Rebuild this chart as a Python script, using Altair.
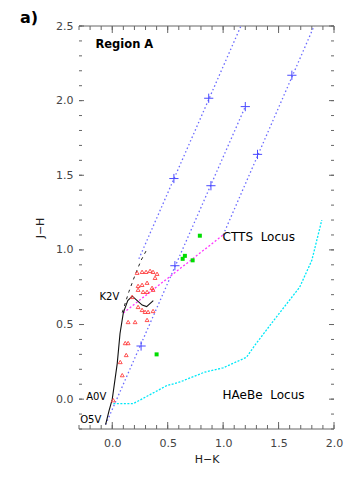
import altair as alt
import pandas as pd
import numpy as np

X_DOMAIN = [-0.3, 2.0]
Y_DOMAIN = [-0.2, 2.5]
W, H = 255, 403

# Dwarf locus (solid black)
dwarf_hk = [-0.06, -0.03, 0.0, 0.045, 0.07, 0.10, 0.14, 0.18, 0.21, 0.27, 0.31, 0.37]
dwarf_jh = [-0.17, -0.08, 0.0, 0.24, 0.44, 0.58, 0.66, 0.69, 0.67, 0.63, 0.62, 0.66]

# Giant locus (dashed black)
giant_hk = [0.09, 0.15, 0.21, 0.26, 0.31]
giant_jh = [0.58, 0.72, 0.84, 0.93, 1.00]

# Reddening vectors (blue dotted)
red1_hk = [0.24, 1.19]
red1_jh = [0.94, 2.55]
red2_hk = [-0.06, 1.20]
red2_jh = [-0.17, 1.96]
red3_hk = [1.00, 1.85]
red3_jh = [1.10, 2.55]

# Plus markers along the reddening vectors
plus_hk = [0.556, 0.87, 0.26, 0.565, 0.89, 1.20, 1.31, 1.62]
plus_jh = [1.478, 2.016, 0.356, 0.894, 1.43, 1.96, 1.64, 2.17]

# CTTS locus (magenta)
ctts_hk = [0.10, 1.00]
ctts_jh = [0.578, 1.10]

# HAeBe locus (cyan)
haebe_hk = [0.01, 0.19, 0.49, 0.61, 0.83, 1.00, 1.21, 1.30, 1.48, 1.69, 1.80, 1.89]
haebe_jh = [-0.03, -0.03, 0.09, 0.115, 0.18, 0.21, 0.28, 0.375, 0.55, 0.75, 0.93, 1.20]

# Sources (red open triangles)
tri_hk = [0.224, 0.269, 0.305, 0.341, 0.368, 0.404, 0.386, 0.233, 0.269, 0.314,
          0.359, 0.233, 0.278, 0.314, 0.368, 0.179, 0.233, 0.269, 0.296, 0.323,
          0.368, 0.143, 0.206, 0.314, 0.117, 0.143, 0.126, 0.072, 0.090, 0.009]
tri_jh = [0.847, 0.853, 0.853, 0.860, 0.853, 0.840, 0.813, 0.759, 0.766, 0.780,
          0.746, 0.733, 0.719, 0.719, 0.733, 0.685, 0.618, 0.598, 0.585, 0.585,
          0.591, 0.517, 0.517, 0.531, 0.376, 0.376, 0.296, 0.249, 0.161, -0.007]

# Sources (green squares)
sq_hk = [0.79, 0.655, 0.635, 0.725, 0.40]
sq_jh = [1.095, 0.96, 0.94, 0.93, 0.30]

# Labels
star_labels = ["K2V", "A0V", "O5V"]
star_lab_hk = [0.063, -0.054, -0.099]
star_lab_jh = [0.685, 0.013, -0.141]

locus_labels = ["CTTS\u00a0 Locus", "HAeBe\u00a0 Locus"]
locus_lab_hk = [0.995, 0.995]
locus_lab_jh = [1.085, 0.027]

region_label = ["Region A"]
region_hk = [-0.152]
region_jh = [2.372]

x_major = [0.0, 0.5, 1.0, 1.5, 2.0]
y_major = [0.0, 0.5, 1.0, 1.5, 2.0, 2.5]
x_minor = [round(v, 1) for v in np.arange(-0.3, 2.0001, 0.1)]
y_minor = [round(v, 1) for v in np.arange(-0.2, 2.5001, 0.1)]

FONT = "DejaVu Sans"

xscale = alt.Scale(domain=X_DOMAIN, nice=False, zero=False)
yscale = alt.Scale(domain=Y_DOMAIN, nice=False, zero=False)
xaxis = alt.Axis(values=x_major, format=".1f", title="H\u2212K", ticks=False,
                 domain=False, grid=False, labelPadding=8, labelFontSize=11,
                 labelColor="#444444", labelFont=FONT, titleFont=FONT,
                 titleFontSize=11, titleFontWeight="normal", titleColor="#222222",
                 titlePadding=5, labelOverlap=False, labelFlush=False)
yaxis = alt.Axis(values=y_major, format=".1f", title="J\u2212H", ticks=False,
                 domain=False, grid=False, labelPadding=6, labelFontSize=11,
                 labelColor="#444444", labelFont=FONT, titleFont=FONT,
                 titleFontSize=11, titleFontWeight="normal", titleColor="#222222",
                 titlePadding=10, labelOverlap=False, labelFlush=False)


def X(field="hk"):
    return alt.X(f"{field}:Q", scale=xscale, axis=xaxis)


def Y(field="jh"):
    return alt.Y(f"{field}:Q", scale=yscale, axis=yaxis)


def line_layer(hk, jh, color, dash, width=1.2):
    df = pd.DataFrame({"hk": hk, "jh": jh, "o": range(len(hk))})
    mark = alt.Chart(df).mark_line(color=color, strokeWidth=width, clip=True,
                                   **({"strokeDash": dash} if dash else {}))
    return mark.encode(x=X(), y=Y(), order="o:Q")


layers = []

# frame: top & bottom spines
dom = pd.DataFrame({"hk": [X_DOMAIN[0]], "hk2": [X_DOMAIN[1]]})
for yp in [0, H]:
    layers.append(alt.Chart(dom).mark_rule(color="#666666", strokeWidth=1).encode(
        x=X(), x2="hk2:Q", y=alt.value(yp)))

# ticks
xmin_df = pd.DataFrame({"hk": x_minor})
xmaj_df = pd.DataFrame({"hk": x_major})
ymin_df = pd.DataFrame({"jh": y_minor})
ymaj_df = pd.DataFrame({"jh": y_major})
for df_, ln in [(xmin_df, 4), (xmaj_df, 7)]:
    layers.append(alt.Chart(df_).mark_rule(color="#666666").encode(
        x=X(), y=alt.value(0), y2=alt.value(ln)))
    layers.append(alt.Chart(df_).mark_rule(color="#666666").encode(
        x=X(), y=alt.value(H), y2=alt.value(H - ln)))
for df_, ln in [(ymin_df, 3), (ymaj_df, 5)]:
    layers.append(alt.Chart(df_).mark_rule(color="#666666").encode(
        y=Y(), x=alt.value(0), x2=alt.value(ln)))
    layers.append(alt.Chart(df_).mark_rule(color="#666666").encode(
        y=Y(), x=alt.value(W), x2=alt.value(W - ln)))

# loci and vectors
layers.append(line_layer(haebe_hk, haebe_jh, "#00e8f8", [2, 1.5], 1.3))
layers.append(line_layer(ctts_hk, ctts_jh, "#ff33ff", [2, 2], 1.3))
layers.append(line_layer(red1_hk, red1_jh, "#6a6aff", [1.5, 2.5], 1.3))
layers.append(line_layer(red2_hk, red2_jh, "#6a6aff", [1.5, 2.5], 1.3))
layers.append(line_layer(red3_hk, red3_jh, "#6a6aff", [1.5, 2.5], 1.3))
layers.append(line_layer(giant_hk, giant_jh, "#222222", [3, 4], 1.0))
layers.append(line_layer(dwarf_hk, dwarf_jh, "#111111", None, 1.1))

# plus markers
plus_df = pd.DataFrame({"hk": plus_hk, "jh": plus_jh})
layers.append(alt.Chart(plus_df).mark_point(
    shape="M-1,0L1,0M0,-1L0,1", size=85, color="#4a4aff", strokeWidth=1,
    filled=False, opacity=1).encode(x=X(), y=Y()))

# triangles
tri_df = pd.DataFrame({"hk": tri_hk, "jh": tri_jh})
layers.append(alt.Chart(tri_df).mark_point(
    shape="triangle-up", size=15, color="#ff4040", strokeWidth=0.9,
    filled=False, opacity=1).encode(x=X(), y=Y()))

# green squares
sq_df = pd.DataFrame({"hk": sq_hk, "jh": sq_jh})
layers.append(alt.Chart(sq_df).mark_point(
    shape="square", size=16, color="#00dd00", filled=True, opacity=1).encode(
    x=X(), y=Y()))

# labels
star_df = pd.DataFrame({"hk": star_lab_hk, "jh": star_lab_jh, "t": star_labels})
layers.append(alt.Chart(star_df).mark_text(
    align="right", baseline="middle", font=FONT, fontSize=10, color="#000000").encode(
    x=X(), y=Y(), text="t:N"))

locus_df = pd.DataFrame({"hk": locus_lab_hk, "jh": locus_lab_jh, "t": locus_labels})
layers.append(alt.Chart(locus_df).mark_text(
    align="left", baseline="middle", font=FONT, fontSize=12, color="#000000").encode(
    x=X(), y=Y(), text="t:N"))

region_df = pd.DataFrame({"hk": region_hk, "jh": region_jh, "t": region_label})
layers.append(alt.Chart(region_df).mark_text(
    align="left", baseline="middle", font=FONT, fontSize=11.5, fontWeight="bold",
    color="#000000").encode(x=X(), y=Y(), text="t:N"))

# panel tag
tag_df = pd.DataFrame({"t": ["a)"]})
layers.append(alt.Chart(tag_df).mark_text(
    align="left", baseline="middle", font=FONT, fontSize=16, fontWeight="bold",
    color="#000000").encode(x=alt.value(-59), y=alt.value(-8), text="t:N"))

chart = alt.layer(*layers).properties(
    width=W, height=H, autosize="none",
    padding={"left": 71, "top": 18, "right": 18, "bottom": 42},
).configure_view(strokeWidth=0)

chart.save("out.html", embed_options={"renderer": "svg", "actions": False})
